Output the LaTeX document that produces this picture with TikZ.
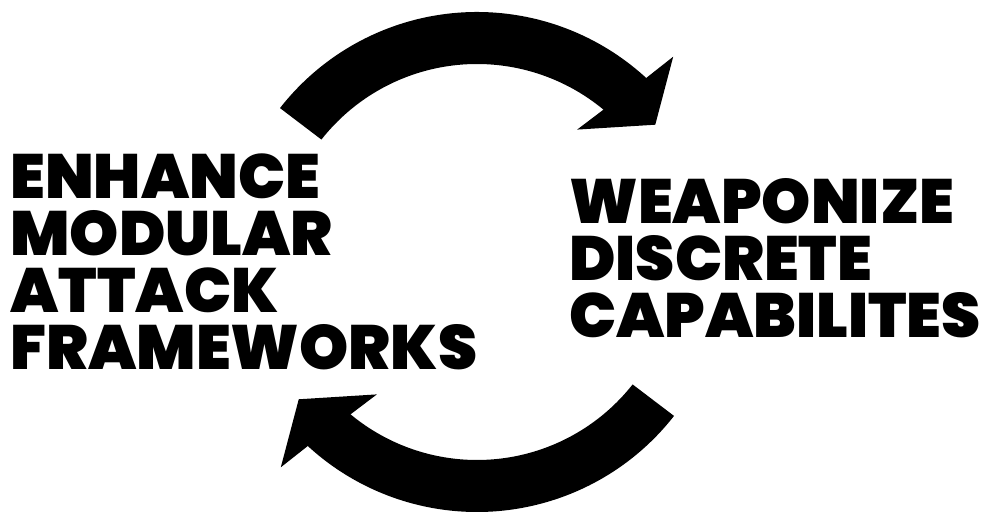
\documentclass[tikz,border=0pt]{standalone}
\usepackage{fontspec}
\newfontfamily\heavyfont{Poppins Black}
\usetikzlibrary{calc,positioning}
\begin{document}
\begin{tikzpicture}[x=0.02cm,y=0.02cm,
  cycleline/.style={anchor=north west,inner sep=0pt,text height=24.8pt,text depth=0pt,
    font=\heavyfont\fontsize{35.6}{35.6}\selectfont},
  nextline/.style={cycleline,below right=0.252cm and 0cm of #1.south west}]
\useasboundingbox (0,0) rectangle (982,513);
\coordinate (c) at (477,251);

% upper arrow, running clockwise
\fill ($(c)+(142:250)$) arc[start angle=142,end angle=47.4,radius=250]
  -- ($(c)+(46.3:284)$) -- ($(c)+(37.6:225)$) -- ($(c)+(52.9:166)$)
  -- ($(c)+(50.3:198)$) arc[start angle=50.3,end angle=141.8,radius=198] -- cycle;

% lower arrow
\fill ($(c)+(322:250)$) arc[start angle=322,end angle=227.4,radius=250]
  -- ($(c)+(226.3:284)$) -- ($(c)+(217.6:225)$) -- ($(c)+(232.9:166)$)
  -- ($(c)+(230.3:198)$) arc[start angle=230.3,end angle=321.8,radius=198] -- cycle;

% left text
\node[cycleline] (enhance) at (10,358) {ENHANCE};
\node[nextline=enhance] (modular) {MODULAR};
\node[nextline=modular] (attack) {ATTACK};
\node[nextline=attack] (frameworks) {FRAMEWORKS};

% right text
\node[cycleline] (weaponize) at (569,333) {WEAPONIZE};
\node[nextline=weaponize] (discrete) {DISCRETE};
\node[nextline=discrete] (capabilites) {CAPABILITES};
\end{tikzpicture}
\end{document}
